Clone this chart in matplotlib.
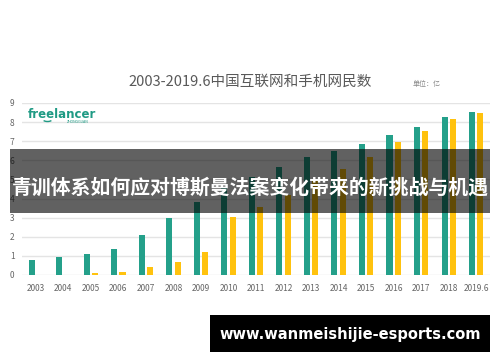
import matplotlib
matplotlib.use("Agg")
import matplotlib.pyplot as plt
from matplotlib.patches import Rectangle, Arc

plt.rcParams['font.family'] = ['Noto Sans CJK SC', 'DejaVu Sans']

years = ["2003", "2004", "2005", "2006", "2007", "2008", "2009", "2010", "2011",
         "2012", "2013", "2014", "2015", "2016", "2017", "2018", "2019.6"]
internet = [0.79, 0.94, 1.11, 1.37, 2.10, 2.98, 3.84, 4.57, 5.13,
            5.64, 6.18, 6.49, 6.88, 7.31, 7.72, 8.29, 8.54]
mobile = [0.0, 0.0, 0.10, 0.17, 0.40, 0.68, 1.20, 3.03, 3.56,
          4.20, 5.00, 5.57, 6.20, 6.95, 7.53, 8.17, 8.47]
yticks = [0, 1, 2, 3, 4, 5, 6, 7, 8, 9]

title = "2003-2019.6中国互联网和手机网民数"
unit = "单位：亿"
overlay = "青训体系如何应对博斯曼法案变化带来的新挑战与机遇"
url = "www.wanmeishijie-esports.com"

W, H = 500, 362
fig = plt.figure(figsize=(W / 100, H / 100), dpi=100)
fig.patch.set_facecolor("white")

ax = fig.add_axes([22 / W, 1 - 275 / H, (490 - 22) / W, (275 - 103) / H])
x = list(range(len(years)))
bw = 0.22
ax.bar([i - 0.15 for i in x], internet, width=bw, color="#24a08a", zorder=3)
ax.bar([i + 0.15 for i in x], mobile, width=bw, color="#ffc20e", zorder=3)
ax.set_xlim(-0.5, len(years) - 0.5)
ax.set_ylim(0, 9)
ax.set_yticks(yticks)
ax.set_yticklabels([str(v) for v in yticks])
ax.set_xticks(x)
ax.set_xticklabels(years)
ax.grid(axis="y", color="#e4e4e4", linewidth=1, zorder=0)
ax.set_axisbelow(True)
for s in ax.spines.values():
    s.set_visible(False)
ax.tick_params(axis="both", length=0, labelsize=6, labelcolor="#666666")
ax.tick_params(axis="x", pad=6.5)
ax.tick_params(axis="y", pad=5.5)
ax.set_facecolor("none")

# title and unit
fig.text(250 / W, 1 - 82 / H, title, ha="center", va="center", fontsize=10.5, color="#595959")
fig.text(413 / W, 1 - 84 / H, unit, ha="left", va="center", fontsize=5, color="#888888")

# logo
fig.text(28 / W, 1 - 114 / H, "freelancer", ha="left", va="center", fontsize=8.5,
         fontweight="bold", color="#1f9a84", family=["DejaVu Sans"])
fig.text(67 / W, 1 - 122 / H, "ZHONGGUAN", ha="left", va="center", fontsize=2.3,
         color="#1f9a84", family=["DejaVu Sans"])
fig.add_artist(Arc((47.5 / W, 1 - 119.5 / H), 9 / W, 4 / H, theta1=200, theta2=340,
                   transform=fig.transFigure, color="#1f9a84", lw=1))

# overlay band
fig.add_artist(Rectangle((10 / W, 1 - 213 / H), 480 / W, 64 / H, transform=fig.transFigure,
                         facecolor="black", alpha=0.62, edgecolor="none", zorder=5))
fig.text(250 / W, 1 - 187 / H, overlay, ha="center", va="center", fontsize=14.3,
         fontweight="bold", color="white", zorder=6)

# url box
fig.add_artist(Rectangle((210 / W, 1 - 352 / H), 280 / W, 37 / H, transform=fig.transFigure,
                         facecolor="black", edgecolor="none", zorder=5))
fig.text(350 / W, 1 - 334 / H, url, ha="center", va="center", fontsize=10.5,
         fontweight="bold", color="white", zorder=6, family=["DejaVu Sans"])

fig.savefig("out.png", dpi=100)
